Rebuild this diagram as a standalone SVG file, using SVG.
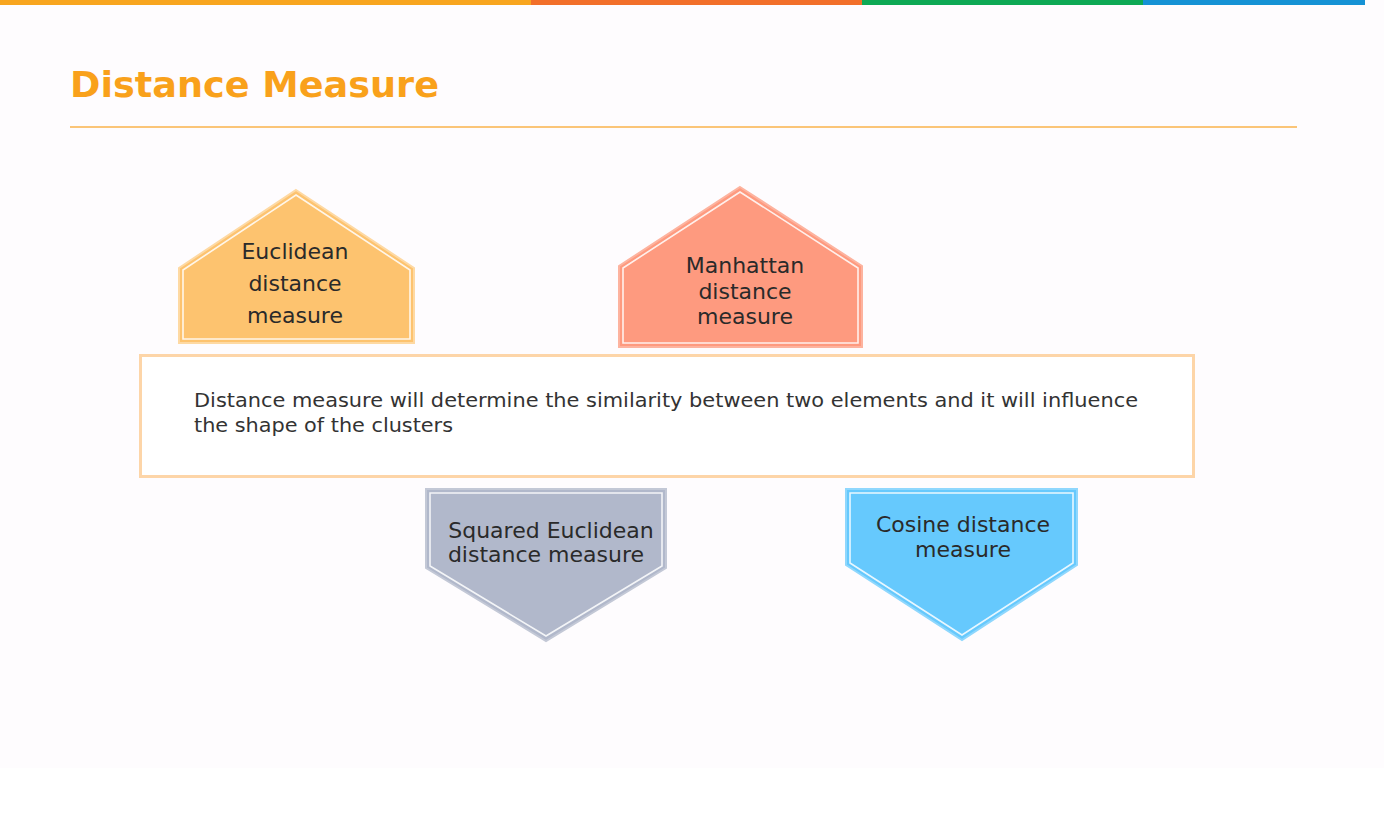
<svg xmlns="http://www.w3.org/2000/svg" width="1384" height="840" viewBox="0 0 1384 840">
  <style>
    .title { font-family: "DejaVu Sans", "Liberation Sans", sans-serif; font-weight: bold; font-size: 35px; fill: #f9a11b; }
    .lbl { font-family: "DejaVu Sans", "Liberation Sans", sans-serif; font-size: 22px; fill: #2a2a2a; text-anchor: middle; }
    .body { font-family: "DejaVu Sans", "Liberation Sans", sans-serif; font-size: 20px; fill: #333333; }
    .inner { fill: none; stroke: #ffffff; stroke-width: 1.6; opacity: 0.85; }
  </style>

  <!-- page background -->
  <rect x="0" y="0" width="1384" height="840" fill="#ffffff"/>
  <rect x="0" y="0" width="1384" height="768" fill="#fefcfe"/>

  <!-- colour strip along the top -->
  <g id="topbar">
    <rect x="0" y="0" width="531" height="5" fill="#f8a51f"/>
    <rect x="531" y="0" width="331" height="5" fill="#f26f2a"/>
    <rect x="862" y="0" width="281" height="5" fill="#0ea955"/>
    <rect x="1143" y="0" width="222" height="5" fill="#1592d5"/>
  </g>

  <!-- heading -->
  <g id="heading">
    <text class="title" x="70" y="97" textLength="369" lengthAdjust="spacingAndGlyphs">Distance Measure</text>
    <line x1="70" y1="127" x2="1297" y2="127" stroke="#fbc578" stroke-width="2"/>
  </g>

  <!-- central description box -->
  <g id="description">
    <rect x="140.5" y="355.5" width="1053" height="121" fill="#ffffff" stroke="#fdd5a8" stroke-width="3"/>
    <text class="body" x="194" y="407" textLength="944" lengthAdjust="spacingAndGlyphs">Distance measure will determine the similarity between two elements and it will influence</text>
    <text class="body" x="194" y="432" textLength="259" lengthAdjust="spacingAndGlyphs">the shape of the clusters</text>
  </g>

  <!-- Euclidean distance measure -->
  <g id="euclidean">
    <polygon points="296,190 414,268 414,343 179,343 179,268" fill="#fdc36f" stroke="#fed9a3" stroke-width="2"/>
    <polygon class="inner" points="296,195 410,270 410,339 183,339 183,270"/>
    <text class="lbl" x="295" y="259">Euclidean</text>
    <text class="lbl" x="295" y="291">distance</text>
    <text class="lbl" x="295" y="323">measure</text>
  </g>

  <!-- Manhattan distance measure -->
  <g id="manhattan">
    <polygon points="740,187 862,266 862,347 619,347 619,266" fill="#fe9a7f" stroke="#fdb39f" stroke-width="2"/>
    <polygon class="inner" points="740,192 858,268 858,343 623,343 623,268"/>
    <text class="lbl" x="745" y="273">Manhattan</text>
    <text class="lbl" x="745" y="299">distance</text>
    <text class="lbl" x="745" y="324">measure</text>
  </g>

  <!-- Squared Euclidean distance measure -->
  <g id="squared-euclidean">
    <polygon points="426,489 666,489 666,568 546,641 426,568" fill="#b1b8cb" stroke="#c3c8d6" stroke-width="2"/>
    <polygon class="inner" points="430,493 662,493 662,566 546,636 430,566"/>
    <text class="lbl" x="551" y="538">Squared Euclidean</text>
    <text class="lbl" x="546" y="562">distance measure</text>
  </g>

  <!-- Cosine distance measure -->
  <g id="cosine">
    <polygon points="846,489 1077,489 1077,565 962,640 846,565" fill="#66c9fd" stroke="#8fd7fd" stroke-width="2"/>
    <polygon class="inner" points="850,493 1073,493 1073,563 962,635 850,563"/>
    <text class="lbl" x="963" y="532">Cosine distance</text>
    <text class="lbl" x="963" y="557">measure</text>
  </g>

  <!-- no connectors in this figure -->
  <g id="connectors"/>
</svg>
